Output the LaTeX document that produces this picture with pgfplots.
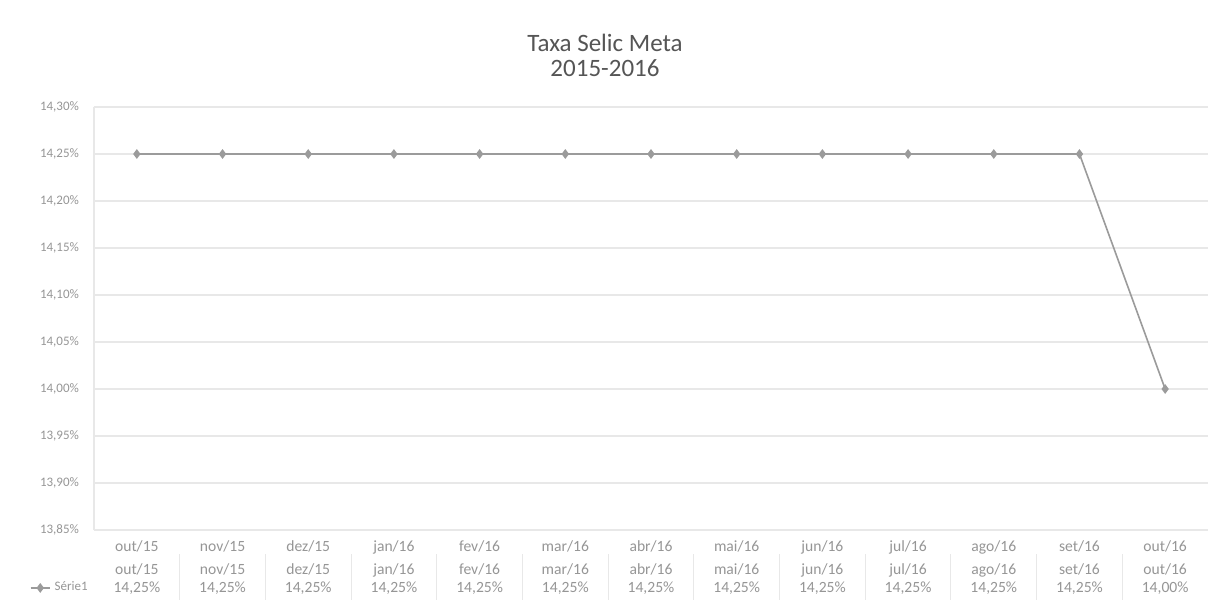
\documentclass[border=0pt]{standalone}
\usepackage{fontspec}
\setmainfont{Carlito}
\usepackage{pgfplots}
\pgfplotsset{compat=1.18}
\definecolor{lbl}{RGB}{150,150,150}
\definecolor{ttl}{RGB}{85,85,85}
\definecolor{ser}{RGB}{155,155,155}
\definecolor{grd}{RGB}{232,232,232}
\begin{document}
\begin{tikzpicture}
\path[use as bounding box, fill=white] (0,0) rectangle (607.5pt,300pt);
\node[text=ttl, font=\fontsize{12.5}{12.5}\selectfont, align=center] at (302.5pt,272.5pt) {Taxa Selic Meta\\2015-2016};
\begin{axis}[
  at={(47pt,35pt)}, anchor=south west,
  scale only axis, width=557pt, height=211.5pt,
  xmin=-0.5, xmax=12.5, ymin=13.85, ymax=14.30,
  xtick={0,...,12},
  xticklabels={
   {out/15\\[2.5pt]out/15\\14,25\%},
   {nov/15\\[2.5pt]nov/15\\14,25\%},
   {dez/15\\[2.5pt]dez/15\\14,25\%},
   {jan/16\\[2.5pt]jan/16\\14,25\%},
   {fev/16\\[2.5pt]fev/16\\14,25\%},
   {mar/16\\[2.5pt]mar/16\\14,25\%},
   {abr/16\\[2.5pt]abr/16\\14,25\%},
   {mai/16\\[2.5pt]mai/16\\14,25\%},
   {jun/16\\[2.5pt]jun/16\\14,25\%},
   {jul/16\\[2.5pt]jul/16\\14,25\%},
   {ago/16\\[2.5pt]ago/16\\14,25\%},
   {set/16\\[2.5pt]set/16\\14,25\%},
   {out/16\\[2.5pt]out/16\\14,00\%}},
  ytick={13.85,13.90,13.95,14.00,14.05,14.10,14.15,14.20,14.25,14.30},
  yticklabel={\pgfmathprintnumber[fixed,fixed zerofill,precision=2,use comma]{\tick}\%},
  /pgf/number format/assume math mode=true,
  major tick length=0pt,
  ymajorgrids, grid style={draw=grd, line width=0.6pt},
  axis lines*=left,
  axis line style={draw=grd, line width=0.6pt},
  xticklabel style={align=center, text=lbl, font=\fontsize{7.8}{9}\selectfont, yshift=-2pt},
  yticklabel style={text=lbl, font=\fontsize{6.5}{8}\selectfont, xshift=-4pt},
  clip=false,
  legend style={at={(axis description cs:-0.058,-0.137)}, anchor=west, draw=none, fill=none,
    font=\fontsize{6.5}{8}\selectfont, text=lbl, inner sep=0pt},
  legend image code/.code={\draw[mark repeat=2,mark phase=2,#1] plot coordinates {(0cm,0cm)(0.17cm,0cm)(0.34cm,0cm)};},
]
\addplot[color=ser, line width=0.8pt, mark=diamond*, mark size=1.8pt, mark options={fill=ser, draw=ser}]
 coordinates {(0,14.25) (1,14.25) (2,14.25) (3,14.25) (4,14.25) (5,14.25) (6,14.25) (7,14.25) (8,14.25) (9,14.25) (10,14.25) (11,14.25) (12,14.00)};
\addlegendentry{Série1}
\pgfplotsinvokeforeach{0.5,1.5,2.5,3.5,4.5,5.5,6.5,7.5,8.5,9.5,10.5,11.5}{
  \draw[grd, line width=0.5pt] (axis cs:#1,13.824) -- (axis cs:#1,13.776);
}
\end{axis}
\end{tikzpicture}
\end{document}
